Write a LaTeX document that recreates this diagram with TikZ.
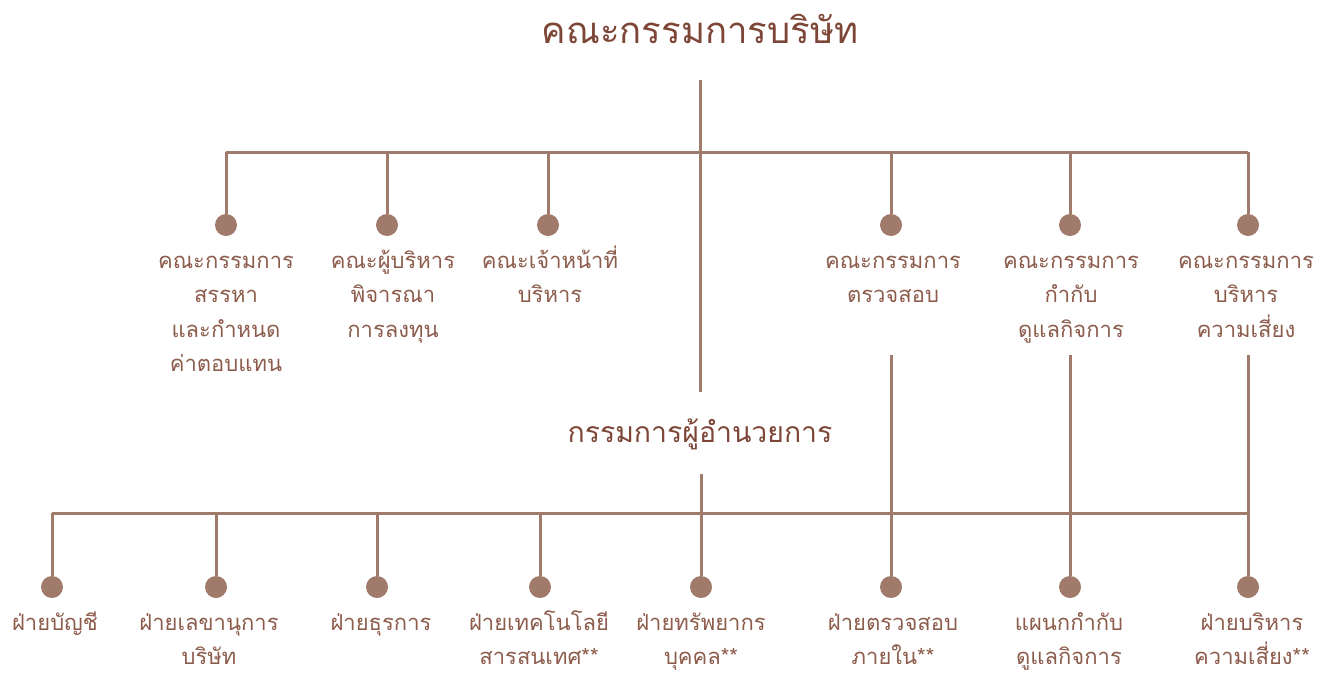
\documentclass[tikz,border=0pt]{standalone}
\usepackage{fontspec}
\newfontfamily\thaifont[Script=Thai]{Loma}
\definecolor{linec}{RGB}{160,122,107}
\definecolor{textc}{RGB}{140,92,76}
\definecolor{titlec}{RGB}{125,70,55}
\tikzset{
  conn/.style={draw=linec, line width=3pt},
  dot/.style={circle, fill=linec, minimum size=22pt, inner sep=0pt},
  lbl/.style={anchor=base, align=center, inner sep=0pt, text=textc, font=\thaifont\fontsize{22}{34.5}\selectfont},
  ttl/.style={anchor=base, inner sep=0pt, text=titlec, font=\thaifont\fontsize{36.5}{40}\selectfont},
  dir/.style={anchor=base, inner sep=0pt, text=titlec, font=\thaifont\fontsize{28.4}{30}\selectfont},
}
\begin{document}
\begin{tikzpicture}[x=1pt,y=-1pt]
\useasboundingbox (0,0) rectangle (1328,673);
% title and director
\node[ttl] (t) at (700,43) {คณะกรรมการบริษัท};
\node[dir] (d) at (700,442) {กรรมการผู้อำนวยการ};
\coordinate (t0) at (700,80);
\coordinate (t1) at (700,392);
\coordinate (d0) at (701,474);
\draw[conn] (t0) -- (t1);
% top bar
\coordinate (tl) at (226,152);
\coordinate (tr) at (1248,152);
\draw[conn] (tl) -- (tr);
% committees
\foreach \n/\x in {c1/226,c2/387,c3/548,c4/891,c5/1070,c6/1248}{
  \node[dot] (\n) at (\x,225) {};
  \coordinate (\n top) at (\x,152);
  \draw[conn] (\n top) -- (\n);
}
% anchor=base is the last line's baseline; first baseline at 268, line step 34.5
\node[lbl] (l1) at (226,371.5) {คณะกรรมการ\\สรรหา\\และกำหนด\\ค่าตอบแทน};
\node[lbl] (l2) at (393,337) {คณะผู้บริหาร\\พิจารณา\\การลงทุน};
\node[lbl] (l3) at (550,302.5) {คณะเจ้าหน้าที่\\บริหาร};
\node[lbl] (l4) at (893,302.5) {คณะกรรมการ\\ตรวจสอบ};
\node[lbl] (l5) at (1071,337) {คณะกรรมการ\\กำกับ\\ดูแลกิจการ};
\node[lbl] (l6) at (1246,337) {คณะกรรมการ\\บริหาร\\ความเสี่ยง};
% bottom bar
\coordinate (bl) at (52,513);
\coordinate (br) at (1248,513);
\draw[conn] (bl) -- (br);
% departments
\foreach \n/\x in {b1/52,b2/216,b3/377,b4/540,b5/701,b6/891,b7/1070,b8/1248}{
  \node[dot] (\n) at (\x,587) {};
  \coordinate (\n top) at (\x,513);
  \draw[conn] (\n top) -- (\n);
}
\draw[conn] (d0) -- (b5);
\coordinate (c4b) at (891,355);
\coordinate (c5b) at (1070,355);
\coordinate (c6b) at (1248,355);
\draw[conn] (c4b) -- (b6);
\draw[conn] (c5b) -- (b7);
\draw[conn] (c6b) -- (b8);
\node[lbl] (m1) at (55,630) {ฝ่ายบัญชี};
\node[lbl] (m2) at (209,664.5) {ฝ่ายเลขานุการ\\บริษัท};
\node[lbl] (m3) at (381,630) {ฝ่ายธุรการ};
\node[lbl] (m4) at (539,664.5) {ฝ่ายเทคโนโลยี\\สารสนเทศ**};
\node[lbl] (m5) at (701,664.5) {ฝ่ายทรัพยากร\\บุคคล**};
\node[lbl] (m6) at (893,664.5) {ฝ่ายตรวจสอบ\\ภายใน**};
\node[lbl] (m7) at (1069,664.5) {แผนกกำกับ\\ดูแลกิจการ};
\node[lbl] (m8) at (1252,664.5) {ฝ่ายบริหาร\\ความเสี่ยง**};
\end{tikzpicture}
\end{document}
